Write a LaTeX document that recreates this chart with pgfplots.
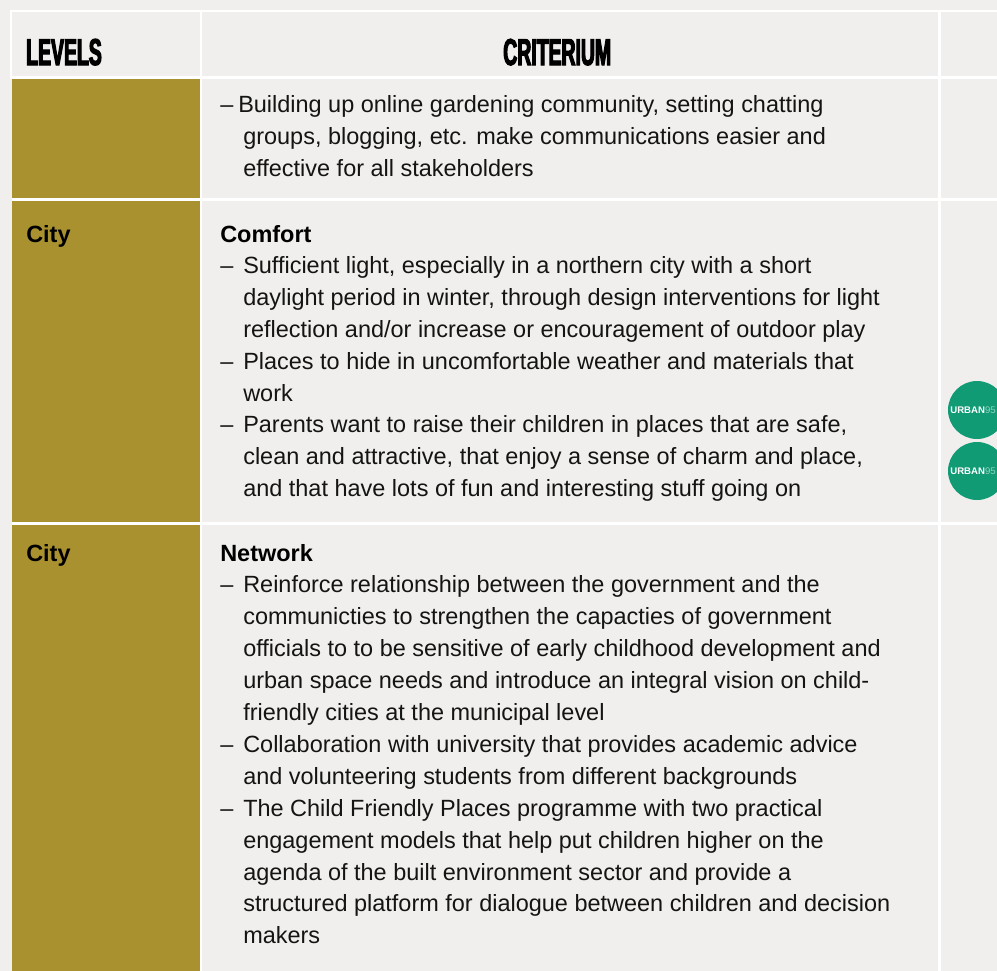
\documentclass[border=0pt]{standalone}
\usepackage{pgfplots}
\pgfplotsset{compat=1.18}
\usepackage{fontspec}
\setmainfont{Liberation Sans}
\newfontfamily\hdrfont{Liberation Sans Bold}[FakeStretch=0.52,FakeBold=3]
\definecolor{bgc}{RGB}{240,239,237}
\definecolor{olv}{RGB}{170,145,47}
\definecolor{grn}{RGB}{16,155,116}
\definecolor{txt}{RGB}{20,20,20}
\newcommand{\bodyfont}{\fontsize{17.6pt}{24pt}\selectfont}
\newcommand{\cell}[5]{\addplot[fill=#5,draw=none] coordinates {(#1,#2) (#3,#2) (#3,#4) (#1,#4)} -- cycle;}
\newcommand{\tl}[3]{\node[anchor=base west,inner sep=0pt,font=\bodyfont,text=txt] at (axis cs:#1,#2) {#3};}
\newcommand{\tb}[3]{\node[anchor=base west,inner sep=0pt,font=\bodyfont\bfseries,text=black] at (axis cs:#1,#2) {#3};}
\newcommand{\dl}[2]{\tl{220}{#1}{–}\tl{243}{#1}{#2}}
\pgfdeclareplotmark{urban}{%
  \pgfpathcircle{\pgfpointorigin}{\pgfplotmarksize}\pgfusepath{fill}%
  \pgftext[left,base,at={\pgfpoint{-20pt}{-2.6pt}}]{\color{white}\bfseries\fontsize{7.2pt}{8pt}\selectfont URBAN{\mdseries\color{white!55!grn}95}}%
}
\begin{document}
\begin{tikzpicture}
\begin{axis}[name=ax, x=0.75pt, y=0.75pt, y dir=reverse,
  xmin=0, xmax=997, ymin=0, ymax=971, enlargelimits=false,
  hide axis, ticks=none, clip=false]
% background and grid
\cell{0}{0}{997}{971}{bgc}
\cell{10}{10}{997}{79}{white}
\cell{12}{79}{997}{971}{white}
% header cells
\cell{12}{12}{200}{76}{bgc}
\cell{202}{12}{938}{76}{bgc}
\cell{941}{12}{997}{76}{bgc}
% row 1
\cell{12}{79}{200}{198}{olv}
\cell{202}{79}{938}{198}{bgc}
\cell{941}{79}{997}{198}{bgc}
% row 2
\cell{12}{201}{200}{522}{olv}
\cell{202}{201}{938}{522}{bgc}
\cell{941}{201}{997}{522}{bgc}
% row 3
\cell{12}{525}{200}{971}{olv}
\cell{202}{525}{938}{971}{bgc}
\cell{941}{525}{997}{971}{bgc}
% logos
\addplot[only marks, mark=urban, mark size=21.75pt, color=grn] coordinates {(977,410) (977,471)};
% header
\node[anchor=base west,inner sep=0pt,font=\hdrfont\fontsize{28pt}{30pt}\selectfont,text=black] at (axis cs:26,65) {LEVELS};
\node[anchor=base west,inner sep=0pt,font=\hdrfont\fontsize{28pt}{30pt}\selectfont,text=black] at (axis cs:503,65) {CRITERIUM};
% row 1
\tl{220}{112}{–}
\tl{238}{112}{Building up online gardening community, setting chatting}
\tl{243}{144}{groups, blogging, etc. make communications easier and}
\tl{243}{176}{effective for all stakeholders}
% row 2
\tb{26}{242}{City}
\tb{220}{242}{Comfort}
\dl{273.8}{Sufficient light, especially in a northern city with a short}
\tl{243}{305.6}{daylight period in winter, through design interventions for light}
\tl{243}{337.4}{reflection and/or increase or encouragement of outdoor play}
\dl{369.2}{Places to hide in uncomfortable weather and materials that}
\tl{243}{401}{work}
\dl{432.8}{Parents want to raise their children in places that are safe,}
\tl{243}{464.6}{clean and attractive, that enjoy a sense of charm and place,}
\tl{243}{496.4}{and that have lots of fun and interesting stuff going on}
% row 3
\tb{26}{561}{City}
\tb{220}{561}{Network}
\dl{592.9}{Reinforce relationship between the government and the}
\tl{243}{624.8}{communicties to strengthen the capacties of government}
\tl{243}{656.7}{officials to to be sensitive of early childhood development and}
\tl{243}{688.6}{urban space needs and introduce an integral vision on child-}
\tl{243}{720.5}{friendly cities at the municipal level}
\dl{752.4}{Collaboration with university that provides academic advice}
\tl{243}{784.3}{and volunteering students from different backgrounds}
\dl{816.2}{The Child Friendly Places programme with two practical}
\tl{243}{848.1}{engagement models that help put children higher on the}
\tl{243}{880}{agenda of the built environment sector and provide a}
\tl{243}{911.9}{structured platform for dialogue between children and decision}
\tl{243}{943.8}{makers}
\end{axis}
\pgfresetboundingbox
\useasboundingbox (ax.south west) rectangle (ax.north east);
\end{tikzpicture}
\end{document}
